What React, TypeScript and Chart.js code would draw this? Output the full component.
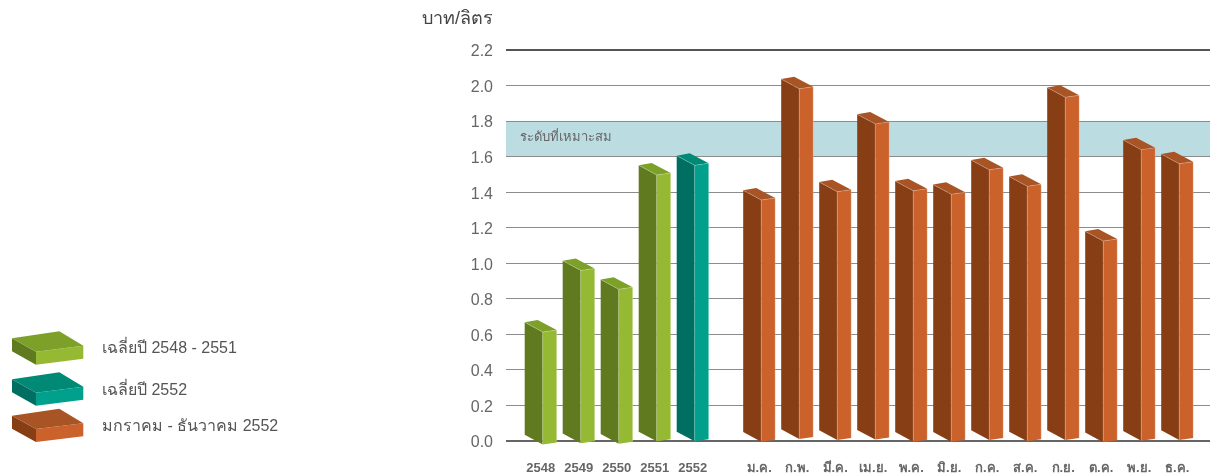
import React, { useEffect, useRef } from "react";
import { Chart, registerables } from "chart.js";

Chart.register(...registerables);

// ---- data ----
const yearLabels = ["2548", "2549", "2550", "2551"];
const yearValues = [0.613, 0.96, 0.854, 1.497];
const yearBases = [-0.019, -0.013, -0.015, -0.002];
const yearPositions = [0, 1, 2, 3];

const latestLabels = ["2552"];
const latestValues = [1.551];
const latestBases = [-0.002];
const latestPositions = [4];

const monthLabels = ["ม.ค.", "ก.พ.", "มี.ค.", "เม.ย.", "พ.ค.", "มิ.ย.", "ก.ค.", "ส.ค.", "ก.ย.", "ต.ค.", "พ.ย.", "ธ.ค."];
const monthValues = [1.356, 1.982, 1.403, 1.784, 1.408, 1.388, 1.526, 1.433, 1.934, 1.125, 1.639, 1.56];
const monthBases = [-0.004, 0.011, 0, 0.008, -0.004, -0.004, 0, -0.002, 0.006, -0.007, 0.002, 0];
const monthPositions = [5.75, 6.75, 7.75, 8.75, 9.75, 10.75, 11.75, 12.75, 13.75, 14.75, 15.75, 16.75];

const seriesNames = ["เฉลี่ยปี 2548 - 2551", "เฉลี่ยปี 2552", "มกราคม - ธันวาคม 2552"];
const axisTitle = "บาท/ลิตร";
const bandRange = [1.6, 1.8];
const bandLabel = "ระดับที่เหมาะสม";

// ---- styles ----
const FONT = '"Liberation Sans", "Noto Sans", "DejaVu Sans", sans-serif';
const palettes = [
  { left: "#5f7a1f", right: "#96b934", top: "#7da128" },
  { left: "#006e60", right: "#00a08c", top: "#008a75" },
  { left: "#883e14", right: "#cb622c", top: "#a95424" },
];
const legendRows = [338.3, 379.3, 415.7];
const legendText = [349, 391, 427];

const toPoints = (xs: number[], lows: number[], highs: number[]) =>
  xs.map((x, i) => ({ x, y: [lows[i], highs[i]] }));

const poly = (ctx: CanvasRenderingContext2D, pts: number[][], fill: string) => {
  ctx.beginPath();
  pts.forEach(([x, y], i) => (i ? ctx.lineTo(x, y) : ctx.moveTo(x, y)));
  ctx.closePath();
  ctx.fillStyle = fill;
  ctx.fill();
};

const edge = (ctx: CanvasRenderingContext2D, pts: number[][], color: string) => {
  ctx.beginPath();
  pts.forEach(([x, y], i) => (i ? ctx.lineTo(x, y) : ctx.moveTo(x, y)));
  ctx.strokeStyle = color;
  ctx.lineWidth = 1;
  ctx.stroke();
};

const box3dPlugin = {
  id: "box3d",
  afterDatasetsDraw(chart: any) {
    const ctx = chart.ctx as CanvasRenderingContext2D;
    ctx.save();
    chart.data.datasets.forEach((_: any, di: number) => {
      const pal = palettes[di];
      chart.getDatasetMeta(di).data.forEach((el: any) => {
        const x0 = el.x - 16;
        const xf = x0 + 18;
        const xr = x0 + 32;
        const top = el.y;
        const base = el.base;
        poly(ctx, [[x0, top - 9.7], [xf, top], [xf, base], [x0, base - 9.7]], pal.left);
        poly(ctx, [[xf, top], [xr, top - 2], [xr, base - 2], [xf, base]], pal.right);
        poly(ctx, [[x0, top - 9.7], [x0 + 13, top - 12], [xr, top - 2], [xf, top]], pal.top);
        edge(ctx, [[x0, top - 9.7], [xf, top], [xr, top - 2]], "rgba(255,255,255,0.22)");
        edge(ctx, [[xf, top], [xf, base]], "rgba(255,255,255,0.22)");
        edge(ctx, [[xr, top - 2], [xr, base - 2]], "rgba(255,255,255,0.22)");
      });
    });
    ctx.restore();
  },
};

const bandPlugin = {
  id: "band",
  beforeDraw(chart: any) {
    const { ctx, chartArea, scales } = chart;
    const y1 = scales.y.getPixelForValue(bandRange[1]);
    const y0 = scales.y.getPixelForValue(bandRange[0]);
    ctx.save();
    ctx.fillStyle = "#bbdce1";
    ctx.fillRect(chartArea.left, y1, chartArea.right - chartArea.left, y0 - y1);
    ctx.fillStyle = "#666666";
    ctx.font = `13px ${FONT}`;
    ctx.textBaseline = "middle";
    ctx.textAlign = "left";
    ctx.fillText(bandLabel, 520, (y0 + y1) / 2 - 1);
    ctx.restore();
  },
};

const annotationPlugin = {
  id: "notes",
  afterDraw(chart: any) {
    const ctx = chart.ctx as CanvasRenderingContext2D;
    ctx.save();
    ctx.textBaseline = "middle";
    ctx.textAlign = "left";
    ctx.fillStyle = "#444444";
    ctx.font = `18px ${FONT}`;
    ctx.fillText(axisTitle, 422, 19);
    seriesNames.forEach((name, i) => {
      const pal = palettes[i];
      const t = legendRows[i];
      const d = 13;
      poly(ctx, [[12, t], [36, t + 13.4], [36, t + 13.4 + d], [12, t + d]], pal.left);
      poly(ctx, [[36, t + 13.4], [83.3, t + 7.5], [83.3, t + 7.5 + d], [36, t + 13.4 + d]], pal.right);
      poly(ctx, [[12, t], [59.3, t - 7], [83.3, t + 7.5], [36, t + 13.4]], pal.top);
      ctx.fillStyle = "#555555";
      ctx.font = `16px ${FONT}`;
      ctx.fillText(name, 102, legendText[i]);
    });
    ctx.restore();
  },
};

const tickPositions = [...yearPositions, ...latestPositions, ...monthPositions];
const tickLabels = [...yearLabels, ...latestLabels, ...monthLabels];

export default function App() {
  const ref = useRef<HTMLCanvasElement>(null);
  useEffect(() => {
    const chart = new Chart(ref.current as HTMLCanvasElement, {
      type: "bar",
      data: {
        datasets: [
          { label: seriesNames[0], data: toPoints(yearPositions, yearBases, yearValues) as any, backgroundColor: "transparent" },
          { label: seriesNames[1], data: toPoints(latestPositions, latestBases, latestValues) as any, backgroundColor: "transparent" },
          { label: seriesNames[2], data: toPoints(monthPositions, monthBases, monthValues) as any, backgroundColor: "transparent" },
        ],
      },
      options: {
        animation: false,
        responsive: false,
        layout: { padding: { top: 50, left: 0, right: 0, bottom: 0 } },
        datasets: { bar: { grouped: false, barThickness: 32 } },
        plugins: { legend: { display: false }, tooltip: { enabled: false }, title: { display: false } },
        scales: {
          x: {
            type: "linear",
            offset: false,
            min: -0.913,
            max: 17.613,
            grid: { display: false, offset: false },
            border: { display: false },
            afterBuildTicks: (scale: any) => {
              scale.ticks = tickPositions.map((value) => ({ value }));
            },
            afterFit: (scale: any) => {
              scale.height = 35;
            },
            ticks: {
              autoSkip: false,
              maxRotation: 0,
              minRotation: 0,
              padding: 12,
              color: "#666666",
              font: { family: FONT, size: 13, weight: "bold" },
              callback: (value: any) => tickLabels[tickPositions.indexOf(value)] ?? "",
            },
          },
          y: {
            type: "linear",
            min: 0,
            max: 2.2,
            border: { display: false },
            afterFit: (scale: any) => {
              scale.width = 506;
            },
            grid: {
              drawTicks: false,
              color: (c: any) =>
                c.tick.value >= 2.19 ? "#555555" : c.tick.value <= 0.01 ? "#666666" : "#8c8c8c",
              lineWidth: (c: any) => (c.tick.value >= 2.19 || c.tick.value <= 0.01 ? 2 : 1),
            },
            ticks: {
              stepSize: 0.2,
              padding: 13,
              labelOffset: 2,
              color: "#666666",
              font: { family: FONT, size: 16 },
              callback: (v: any) => Number(v).toFixed(1),
            },
          },
        },
      },
      plugins: [bandPlugin, box3dPlugin, annotationPlugin],
    } as any);
    return () => chart.destroy();
  }, []);
  return (
    <div style={{ position: "absolute", left: 0, top: 0, width: 1210, height: 476, background: "#ffffff" }}>
      <canvas ref={ref} width={1210} height={476} style={{ display: "block" }} />
    </div>
  );
}
